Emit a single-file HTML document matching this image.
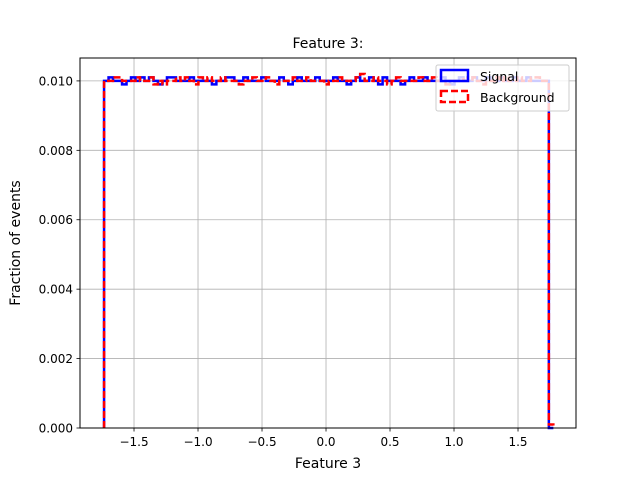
<!DOCTYPE html>
<html><head><meta charset="utf-8"><style>
body{margin:0;background:#fff;}
svg text{font-family:"DejaVu Sans","Liberation Sans",sans-serif;}
</style></head><body>
<svg id="chart" width="640" height="480" viewBox="0 0 640 480" xmlns="http://www.w3.org/2000/svg">
<rect width="640" height="480" fill="#fff"/>
<g id="grid"></g>
<g id="bars"></g>
<rect x="80" y="58" width="496" height="370" fill="none" stroke="#000" stroke-width="1"/>
<g id="ticks"></g>
<text x="328" y="48" text-anchor="middle" font-size="14">Feature 3:</text>
<text x="328" y="468" text-anchor="middle" font-size="14">Feature 3</text>
<text transform="translate(20,243) rotate(-90)" text-anchor="middle" font-size="14">Fraction of events</text>
<g>
<rect x="436" y="65" width="133" height="46" fill="#fff" fill-opacity="0.8" stroke="#ccc" rx="2"/>
<rect x="441" y="70" width="27" height="11" fill="none" stroke="#00f" stroke-width="2.5"/>
<text x="480" y="81" font-size="12.5">Signal</text>
<rect x="441" y="91" width="27" height="11" fill="none" stroke="#f00" stroke-width="2.5" stroke-dasharray="7,3"/>
<text x="480" y="102" font-size="12.5">Background</text>
</g>
</svg>
<script>
const binStart = -1.734;
const binWidth = 0.0351;
const signalValues = [0.0100,0.0101,0.0100,0.0100,0.0099,0.0100,0.0101,0.0100,0.0101,0.0100,
0.0101,0.0100,0.0099,0.0100,0.0101,0.0101,0.0100,0.0100,0.0100,0.0101,
0.0100,0.0100,0.0100,0.0100,0.0099,0.0100,0.0100,0.0101,0.0101,0.0100,
0.0100,0.0101,0.0100,0.0100,0.0100,0.0101,0.0100,0.0100,0.0100,0.0101,
0.0100,0.0099,0.0100,0.0101,0.0100,0.0100,0.0100,0.0101,0.0100,0.0100,
0.0100,0.0101,0.0100,0.0100,0.0099,0.0100,0.0101,0.0100,0.0100,0.0101,
0.0100,0.0099,0.0101,0.0100,0.0100,0.0100,0.0099,0.0100,0.0101,0.0100,
0.0100,0.0101,0.0100,0.0100,0.0100,0.0101,0.0100,0.0099,0.0100,0.0101,
0.0100,0.0100,0.0101,0.0100,0.0100,0.0101,0.0100,0.0100,0.0101,0.0100,
0.0100,0.0101,0.0100,0.0100,0.0101,0.0100,0.0100,0.0100,0.0100,0.0000];
const backgroundValues = [0.0100,0.0100,0.0101,0.0101,0.0100,0.0100,0.0100,0.0101,0.0100,0.0100,
0.0101,0.0099,0.0100,0.0099,0.0100,0.0100,0.0101,0.0100,0.0101,0.0100,
0.0099,0.0101,0.0100,0.0101,0.0100,0.0100,0.0101,0.0100,0.0100,0.0100,
0.0099,0.0100,0.0100,0.0101,0.0100,0.0100,0.0101,0.0100,0.0099,0.0100,
0.0100,0.0100,0.0101,0.0100,0.0100,0.0101,0.0100,0.0100,0.0100,0.0099,
0.0100,0.0100,0.0101,0.0100,0.0100,0.0100,0.0101,0.0102,0.0100,0.0100,
0.0101,0.0100,0.0100,0.0099,0.0100,0.0101,0.0100,0.0100,0.0100,0.0100,
0.0101,0.0100,0.0100,0.0101,0.0100,0.0100,0.0099,0.0100,0.0100,0.0100,
0.0101,0.0100,0.0101,0.0100,0.0099,0.0100,0.0100,0.0101,0.0100,0.0101,
0.0100,0.0100,0.0101,0.0100,0.0100,0.0101,0.0101,0.0100,0.0100,0.0001];
const xTicks = [-1.5,-1.0,-0.5,0.0,0.5,1.0,1.5];
const xTickLabels = ["\u22121.5","\u22121.0","\u22120.5","0.0","0.5","1.0","1.5"];
const yTicks = [0,0.002,0.004,0.006,0.008,0.010];
const yTickLabels = ["0.000","0.002","0.004","0.006","0.008","0.010"];

const NS="http://www.w3.org/2000/svg";
const xMin=-1.922,xMax=1.953,yMin=0,yMax=0.01066;
const L=80,R=576,T=58,B=428;
const X=v=>L+(v-xMin)/(xMax-xMin)*(R-L);
const Y=v=>B-(v-yMin)/(yMax-yMin)*(B-T);
function mk(tag,attrs,parent){const e=document.createElementNS(NS,tag);for(const k in attrs)e.setAttribute(k,attrs[k]);parent.appendChild(e);return e;}
const grid=document.getElementById('grid'),ticks=document.getElementById('ticks'),bars=document.getElementById('bars');
xTicks.forEach((t,i)=>{
  const g=mk('line',{x1:X(t),x2:X(t),y1:T,y2:B,stroke:'#b0b0b0','stroke-width':0.8},grid);
  
  
  mk('line',{x1:X(t),x2:X(t),y1:B,y2:B+3.5,stroke:'#000','stroke-width':0.8},ticks);
  const tx=mk('text',{x:X(t),y:B+18,'text-anchor':'middle','font-size':12},ticks);
  tx.textContent=xTickLabels[i];
  
  
});
yTicks.forEach((t,i)=>{
  const g=mk('line',{x1:L,x2:R,y1:Y(t),y2:Y(t),stroke:'#b0b0b0','stroke-width':0.8},grid);
  
  
  mk('line',{x1:L-3.5,x2:L,y1:Y(t),y2:Y(t),stroke:'#000','stroke-width':0.8},ticks);
  const tx=mk('text',{x:L-7,y:Y(t)+4.5,'text-anchor':'end','font-size':12},ticks);
  tx.textContent=yTickLabels[i];
  
  
});
function stepPath(vals){
  let d='M'+X(binStart)+','+Y(0);
  vals.forEach((v,i)=>{
    const x0=X(binStart+i*binWidth),x1=X(binStart+(i+1)*binWidth);
    d+=' L'+x0+','+Y(v)+' L'+x1+','+Y(v);
  });
  d+=' L'+X(binStart+vals.length*binWidth)+','+Y(0);
  return d;
}
const s=mk('path',{d:stepPath(signalValues),fill:'none',stroke:'#00f','stroke-width':2.5},bars);


const b=mk('path',{d:stepPath(backgroundValues),fill:'none',stroke:'#f00','stroke-width':2.5,'stroke-dasharray':'7,3'},bars);


</script>
</body></html>
